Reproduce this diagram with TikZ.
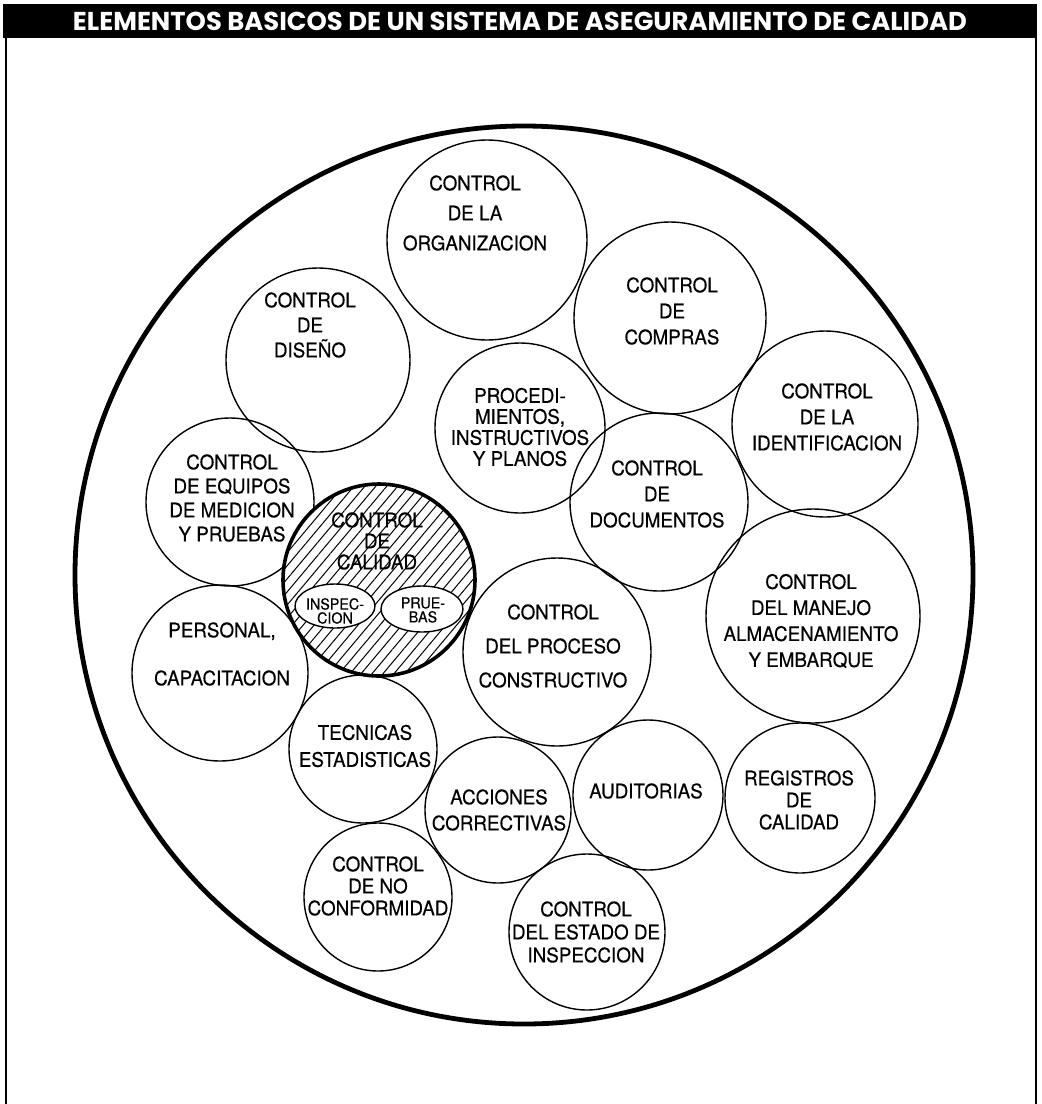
\documentclass[tikz,border=0pt]{standalone}
\usepackage{fontspec}
\newfontfamily\lblfont{TeX Gyre Heros}[FakeStretch=0.94, FakeBold=0.4]
\newfontfamily\headfont{Poppins}
\usetikzlibrary{patterns.meta,shapes.geometric}

\begin{document}
\begin{tikzpicture}[
  x=0.5pt, y=-0.5pt,
  bub/.style={circle, draw, line width=0.7pt, inner sep=0pt},
  lbl/.style={font=\lblfont\fontsize{10}{12.5}\selectfont, align=center, inner sep=0pt},
  ls/.style={font=\lblfont\fontsize{10}{#1}\selectfont},
  tiny/.style={font=\lblfont\fontsize{7.6}{7}\selectfont, align=center, inner sep=0pt},
  egg/.style={ellipse, draw, line width=0.7pt, fill=white, inner sep=0pt},
]
\useasboundingbox (0,0) rectangle (1041,1104);

% Title bar and frame
\node[fill=black, minimum width=517pt, minimum height=17pt, inner sep=0pt] (head) at (520,21)
  {\resizebox{447pt}{!}{\color{white}\headfont\bfseries ELEMENTOS BASICOS DE UN SISTEMA DE ASEGURAMIENTO DE CALIDAD}};
\draw[line width=1pt] (6,38) -- (6,1104) (1036,38) -- (1036,1104);

% Outer circle
\node[bub, line width=2.4pt, minimum size=449pt] (rim) at (524,575) {};

% Upper ring
\node[bub, minimum size=100pt] (org) at (487,240) {};
\node[lbl, ls=15pt] (org-t) at (475,213) {CONTROL\\DE LA\\ORGANIZACION};
\node[bub, minimum size=96pt] (compras) at (670,318) {};
\node[lbl, ls=13pt] (compras-t) at (672,311) {CONTROL\\DE\\COMPRAS};
\node[bub, minimum size=92pt] (diseno) at (318,360) {};
\node[lbl] (diseno-t) at (310,325) {CONTROL\\DE\\DISEÑO};
\node[bub, minimum size=85pt] (proc) at (520,428) {};
\node[lbl, ls=10.5pt] (proc-t) at (520,427) {PROCEDI-\\MIENTOS,\\INSTRUCTIVOS\\Y PLANOS};
\node[bub, minimum size=93pt] (ident) at (825,424) {};
\node[lbl, ls=13pt] (ident-t) at (827,417) {CONTROL\\DE LA\\IDENTIFICACION};
\node[bub, minimum size=89pt] (docs) at (659,502) {};
\node[lbl, ls=13pt] (docs-t) at (657,494) {CONTROL\\DE\\DOCUMENTOS};
\node[bub, minimum size=84pt] (equipos) at (230,502) {};
\node[lbl, ls=12pt] (equipos-t) at (232,498) {CONTROL\\DE EQUIPOS\\DE MEDICION\\Y PRUEBAS};

% Middle ring
\node[bub, minimum size=88pt] (personal) at (220,673) {};
\node[lbl, ls=24pt] (personal-t) at (222,654) {PERSONAL,\\CAPACITACION};
\node[bub, minimum size=94pt] (proceso) at (557,652) {};
\node[lbl, ls=17pt] (proceso-t) at (553,646) {CONTROL\\DEL PROCESO\\CONSTRUCTIVO};
\node[bub, minimum size=107pt] (manejo) at (813,616) {};
\node[lbl, ls=13pt] (manejo-t) at (811,621) {CONTROL\\DEL MANEJO\\ALMACENAMIENTO\\Y EMBARQUE};

% Lower ring
\node[bub, minimum size=74pt] (tecnicas) at (363,749) {};
\node[lbl, ls=13.5pt] (tecnicas-t) at (365,746) {TECNICAS\\ESTADISTICAS};
\node[bub, minimum size=73pt] (acciones) at (498,810) {};
\node[lbl, ls=13pt] (acciones-t) at (499,810) {ACCIONES\\CORRECTIVAS};
\node[bub, minimum size=75pt] (audit) at (648,795) {};
\node[lbl] (audit-t) at (646,791) {AUDITORIAS};
\node[bub, minimum size=75pt] (registros) at (800,798) {};
\node[lbl, ls=11pt] (registros-t) at (799,800) {REGISTROS\\DE\\CALIDAD};
\node[bub, minimum size=74pt] (noconf) at (378,897) {};
\node[lbl, ls=11pt] (noconf-t) at (378,886) {CONTROL\\DE NO\\CONFORMIDAD};
\node[bub, minimum size=78pt] (estado) at (587,932) {};
\node[lbl, ls=11.5pt] (estado-t) at (586,932) {CONTROL\\DEL ESTADO DE\\INSPECCION};

% Hatched core
\node[bub, line width=1.8pt, minimum size=96pt, preaction={fill=white},
  pattern={Lines[angle=50, distance=4.2pt, line width=0.5pt]}] (calidad) at (379,580) {};
\node[lbl, ls=10.5pt] (calidad-t) at (377,541) {CONTROL\\DE\\CALIDAD};
\node[egg, minimum width=40pt, minimum height=22pt] (insp) at (335,606) {};
\node[tiny] (insp-t) at (335,611) {INSPEC-\\CION};
\node[egg, minimum width=41pt, minimum height=23pt] (pruebas) at (422,609) {};
\node[tiny] (pruebas-t) at (423,610) {PRUE-\\BAS};
\end{tikzpicture}
\end{document}
